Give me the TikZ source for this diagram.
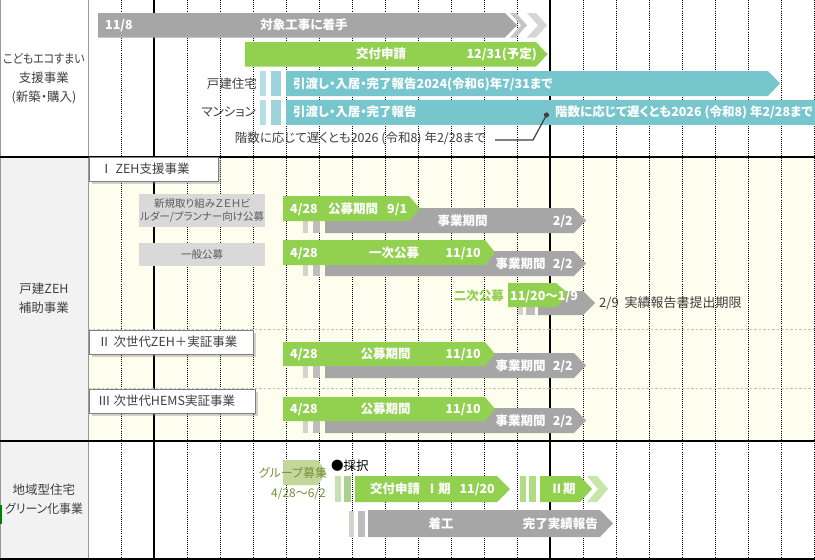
\documentclass[tikz,border=0pt]{standalone}
\usepackage{fontspec}
\setmainfont{Noto Sans CJK JP}[RawFeature={+palt}]
\usetikzlibrary{shadows}
\definecolor{gbar}{HTML}{A6A6A6}
\definecolor{gchevA}{HTML}{C4C4C4}
\definecolor{gchevB}{HTML}{D6D6D6}
\definecolor{grn}{HTML}{92D050}
\definecolor{teal}{HTML}{78C6CD}
\definecolor{tealA}{HTML}{B6DEE5}
\definecolor{tealB}{HTML}{9DD3DA}
\definecolor{dkgray}{HTML}{404040}
\definecolor{midgray}{HTML}{595959}
\definecolor{boxgray}{HTML}{D9D9D9}
\definecolor{cream}{HTML}{FDFEEE}
\definecolor{leftgray}{HTML}{F2F2F2}
\definecolor{sbA}{HTML}{D3D3CC}
\definecolor{sbB}{HTML}{BDBDBD}
\definecolor{olvlight}{HTML}{C4D79B}
\definecolor{olvtext}{HTML}{76923C}
\definecolor{pgA}{HTML}{C6E0B4}
\definecolor{pgB}{HTML}{A9D08E}
\definecolor{pgC}{HTML}{B0DC84}
\definecolor{pgChev}{HTML}{C8E6A8}
\definecolor{edge}{HTML}{7F7F7F}
\definecolor{dashgray}{HTML}{BFBFBF}
\newcommand{\mypbar}[6]{\fill[#6] (#1,#2) -- (#3,#2) -- ({#3+#5},{(#2+#4)/2}) -- (#3,#4) -- (#1,#4) -- cycle;}
\newcommand{\mychev}[6]{\fill[#6] (#1,#2) -- (#3,#2) -- ({#3+#5},{(#2+#4)/2}) -- (#3,#4) -- (#1,#4) -- ({#1+#5},{(#2+#4)/2}) -- cycle;}
\tikzset{
  wt/.style={text=white, font=\bfseries\fontsize{12.5}{14}\selectfont, inner sep=0pt, text height=11pt, text depth=2pt},
  dk/.style={text=dkgray, font=\fontsize{12.5}{14}\selectfont, inner sep=0pt, text height=11pt, text depth=2pt},
  lbl/.style={text=dkgray, font=\fontsize{12.5}{19}\selectfont, align=center, inner sep=0pt},
  gbox/.style={fill=boxgray, text=midgray, font=\fontsize{10.5}{12.4}\selectfont, align=center, inner sep=0pt, anchor=north west},
  tbox/.style={draw=edge, line width=1.3pt, fill=white, inner sep=0pt, anchor=north west,
    drop shadow={opacity=0.35, shadow xshift=2pt, shadow yshift=-2pt}},
  gridln/.style={black, line width=0.9pt, dash pattern=on 1pt off 1.1pt},
  thickln/.style={black, line width=2pt},
  secln/.style={black, line width=1.5pt},
  hdash/.style={dashgray, line width=0.8pt, dash pattern=on 2.5pt off 2pt},
}
\begin{document}
\begin{tikzpicture}[x=1pt,y=-1pt]
\useasboundingbox (0,0) rectangle (815,560);
% backgrounds
\fill[white] (0,0) rectangle (815,560);
\fill[leftgray] (0,157) rectangle (88,559);
\fill[cream] (88,157) rectangle (815,441);
% grid
\foreach \gx in {121,187,220,253,286,319,352,385,418,451,484,517,583,616,649,682,715,748,781,814.4}
  \draw[gridln] (\gx,0) -- (\gx,559);
\draw[thickln] (154,0) -- (154,559);
\draw[thickln] (550,0) -- (550,559);
\draw[hdash] (88,329) -- (815,329);
\draw[hdash] (88,388) -- (815,388);
% ---------------- top section
\mypbar{98}{13}{505}{37.5}{12}{gbar}
\mychev{510}{13}{516}{37.5}{11}{gchevA}
\mychev{527}{13}{536}{37.5}{11}{gchevB}
\mypbar{245}{42}{536}{66.5}{11.5}{grn}
\fill[tealA] (260,71) rectangle (266,96);
\fill[tealB] (271,71) rectangle (281,96);
\mypbar{286}{71}{768}{96}{12}{teal}
\fill[tealA] (260,100) rectangle (266,124.5);
\fill[tealB] (271,100) rectangle (281,124.5);
\fill[teal] (286,100) rectangle (815,124.5);
\node[wt, anchor=west] (t118) at (105,25) {11/8};
\node[wt] (tstart) at (304,25) {対象工事に着手};
\node[wt] (tkofu) at (381,54) {交付申請};
\node[wt, anchor=east] (t1231) at (537,54) {12/31(予定)};
\node[wt, anchor=west] (thand1) at (293,83.5) {引渡し・入居・完了報告2024(令和6)年7/31まで};
\node[wt, anchor=west] (thand2) at (293,112) {引渡し・入居・完了報告};
\node[wt, anchor=west] (tfloor) at (555,112) {階数に応じて遅くとも2026 (令和8) 年2/28まで};
\node[dk, anchor=east] (tkodate) at (257,84) {戸建住宅};
\node[dk, anchor=east] (tmansion) at (256,112) {マンション};
\node[dk, anchor=east] (tcallout) at (486,138) {階数に応じて遅くとも2026 (令和8) 年2/28まで};
\coordinate (cdot) at (546.5,115);
\coordinate (cbend) at (533,140);
\coordinate (cend) at (495,140);
\fill[dkgray] (cdot) circle (2.6pt);
\draw[dkgray, line width=1.2pt] (cdot) -- (cbend) -- (cend);
% ---------------- middle section
% I row a
\fill[sbA] (303,208) rectangle (308,233);
\fill[sbB] (313,208) rectangle (320,233);
\mypbar{325}{208}{574}{233}{12}{gbar}
\mypbar{283}{196}{409}{221}{11}{grn}
% I row b
\fill[sbA] (303,251) rectangle (308,276);
\fill[sbB] (313,251) rectangle (320,276);
\mypbar{325}{251}{574}{276}{12}{gbar}
\mypbar{283}{240}{485}{265}{10}{grn}
% second call
\fill[sbA] (518,291) rectangle (523,315);
\fill[sbB] (526,291) rectangle (535,315);
\mypbar{538}{291}{583}{315}{12}{gbar}
\mypbar{508}{283}{556}{307}{14}{grn}
% II
\fill[sbA] (303,353) rectangle (308,378);
\fill[sbB] (313,353) rectangle (320,378);
\mypbar{325}{353}{574}{378}{12}{gbar}
\mypbar{283}{342}{485}{366}{10}{grn}
% III
\fill[sbA] (303,408) rectangle (308,433);
\fill[sbB] (313,408) rectangle (320,433);
\mypbar{325}{408}{574}{433}{12}{gbar}
\mypbar{283}{397}{485}{421}{10}{grn}
% gray label boxes
\node[gbox, minimum width=126pt, minimum height=33pt] (gb1) at (139,194) {新規取り組みＺＥＨビ\\ルダー/プランナー向け公募};
\node[gbox, minimum width=126pt, minimum height=23pt] (gb2) at (139,243) {一般公募};
% texts I a
\node[wt, anchor=west] (a1) at (290,208.5) {4/28};
\node[wt] (a2) at (353,208.5) {公募期間};
\node[wt, anchor=west] (a3) at (387,208.5) {9/1};
\node[wt] (a4) at (462.5,220.5) {事業期間};
\node[wt, anchor=east] (a5) at (573,220.5) {2/2};
% I b
\node[wt, anchor=west] (b1) at (290,252.5) {4/28};
\node[wt] (b2) at (394,252.5) {一次公募};
\node[wt, anchor=east] (b3) at (481,252.5) {11/10};
\node[wt] (b4) at (520.5,263.5) {事業期間};
\node[wt, anchor=east] (b5) at (573,263.5) {2/2};
% second
\node[wt, text=grn, anchor=east] (c1) at (504,295.5) {二次公募};
\node[wt, anchor=west] (c2) at (510,295.5) {11/20〜1/9};
\node[dk, anchor=west, font=\fontsize{13}{14}\selectfont] (c3) at (599,302.5) {2/9\ \ 実績報告書提出期限};
% II
\node[wt, anchor=west] (d1) at (290,354) {4/28};
\node[wt] (d2) at (385.5,354) {公募期間};
\node[wt, anchor=east] (d3) at (481,354) {11/10};
\node[wt] (d4) at (520.5,365.5) {事業期間};
\node[wt, anchor=east] (d5) at (573,365.5) {2/2};
% III
\node[wt, anchor=west] (e1) at (290,409) {4/28};
\node[wt] (e2) at (385.5,409) {公募期間};
\node[wt, anchor=east] (e3) at (481,409) {11/10};
\node[wt] (e4) at (520.5,420.5) {事業期間};
\node[wt, anchor=east] (e5) at (573,420.5) {2/2};
% ---------------- bottom section
\mypbar{283}{460}{318}{485}{8}{olvlight}
\fill[pgA] (335,476) rectangle (341,502);
\fill[pgB] (344,476) rectangle (351,502);
\mypbar{355}{476}{497}{502}{13}{grn}
\fill[pgC] (520,476) rectangle (526,502);
\fill[pgC] (529,476) rectangle (536,502);
\mypbar{540}{476}{580}{502}{12}{grn}
\mychev{587}{476}{597}{502}{11}{pgChev}
\fill[sbA] (349,511) rectangle (354,537);
\fill[sbB] (358,511) rectangle (365,537);
\mypbar{368}{510}{600}{537}{13}{gbar}
\node[dk, text=olvtext, font=\fontsize{12}{14}\selectfont] (f1) at (293,472.5) {グループ募集};
\node[dk, text=olvtext, font=\fontsize{12}{14}\selectfont] (f2) at (298.5,493) {4/28〜6/2};
\node[dk, anchor=west, text=black] (f3) at (331,466) {●採択};
\node[wt, anchor=west] (f4) at (370,489) {交付申請\ \ Ⅰ期};
\node[wt, anchor=east] (f5) at (495,489) {11/20};
\node[wt] (f6) at (563,489) {Ⅱ期};
\node[wt] (f7) at (441,523.5) {着工};
\node[wt, anchor=east] (f8) at (598,523.5) {完了実績報告};
% ---------------- frame lines
\draw[edge!80, line width=1pt] (0.5,0) -- (0.5,559);
\draw[edge!80, line width=1pt] (88,0) -- (88,559);
\draw[secln] (0,157) -- (815,157);
\draw[secln] (0,441) -- (815,441);
\draw[secln] (0,559.2) -- (815,559.2);
\fill[green!50!black] (0,505) rectangle (2,524);
% title boxes
\node[tbox, minimum width=129pt, minimum height=24pt] (box1) at (89,157) {};
\node[dk, anchor=west] (box1t) at (100,169) {Ⅰ\ ZEH支援事業};
\node[tbox, minimum width=164pt, minimum height=24pt] (box2) at (89,330) {};
\node[dk, anchor=west] (box2t) at (98,342) {Ⅱ\ 次世代ZEH＋実証事業};
\node[tbox, minimum width=166pt, minimum height=24pt] (box3) at (89,389) {};
\node[dk, anchor=west] (box3t) at (98,401) {Ⅲ\ 次世代HEMS実証事業};
% left labels
\node[lbl] (l1) at (44,79) {\scalebox{0.88}[1]{こどもエコすまい}\\支援事業\\(新築・購入)};
\node[lbl] (l2) at (44,298.5) {戸建ZEH\\補助事業};
\node[lbl] (l3) at (44,499.5) {地域型住宅\\\scalebox{0.95}[1]{グリーン化事業}};
\end{tikzpicture}
\end{document}
